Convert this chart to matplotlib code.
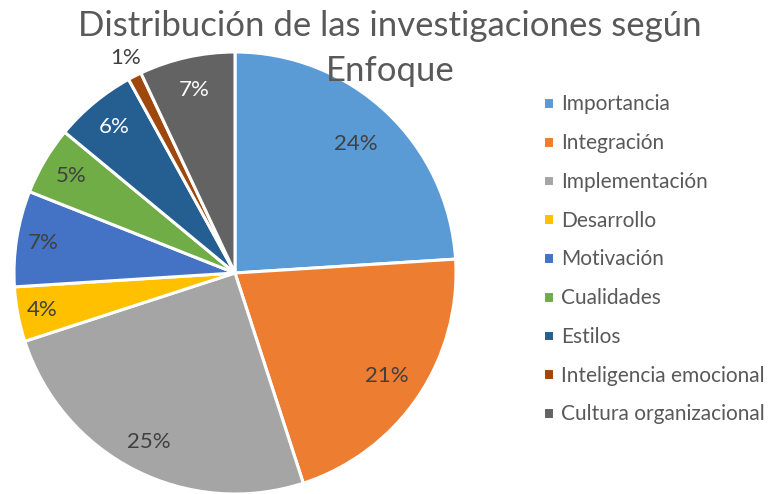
import numpy as np
import matplotlib
matplotlib.use("Agg")
import matplotlib.pyplot as plt

plt.rcParams["font.family"] = ["Lato", "DejaVu Sans"]

# data
categories = ["Importancia", "Integración", "Implementación", "Desarrollo",
              "Motivación", "Cualidades", "Estilos", "Inteligencia emocional",
              "Cultura organizacional"]
shares = [24, 21, 25, 4, 7, 5, 6, 1, 7]

colors = ["#5B9BD5", "#ED7D31", "#A5A5A5", "#FFC000", "#4472C4",
          "#70AD47", "#255E91", "#9E480E", "#636363"]
label_colors = ["#404040"] * 6 + ["white", "#404040", "white"]
label_dist = [0.80, 0.83, 0.86, 0.89, 0.88, 0.86, 0.86, 1.09, 0.85]

W, H = 782, 494
fig = plt.figure(figsize=(W / 100, H / 100), dpi=100)

cx, cy, r = 235, 273, 221
ax = fig.add_axes([(cx - r) / W, (H - cy - r) / H, 2 * r / W, 2 * r / H])

wedges, _ = ax.pie(shares, colors=colors, startangle=90, counterclock=False,
                   radius=1.0,
                   wedgeprops=dict(edgecolor="white", linewidth=2.2))
ax.set_xlim(-1, 1)
ax.set_ylim(-1, 1)
ax.set_aspect("equal")
ax.axis("off")

for w, val, col, d in zip(wedges, shares, label_colors, label_dist):
    mid = np.deg2rad((w.theta1 + w.theta2) / 2)
    ax.text(d * np.cos(mid), d * np.sin(mid), f"{val}%", ha="center",
            va="center", fontsize=16, color=col)

fig.text(390 / W, 1 - 10 / H, "Distribución de las investigaciones según\nEnfoque",
         ha="center", va="top", fontsize=25, color="#595959", linespacing=1.5)

leg = fig.legend(wedges, categories, loc="upper left",
                 bbox_to_anchor=(533 / W, 1 - 84 / H), frameon=False,
                 fontsize=15, handlelength=0.5, handleheight=0.5,
                 handletextpad=0.35, labelspacing=0.9, borderpad=0)
for t in leg.get_texts():
    t.set_color("#595959")

fig.savefig("out.png", dpi=100)
